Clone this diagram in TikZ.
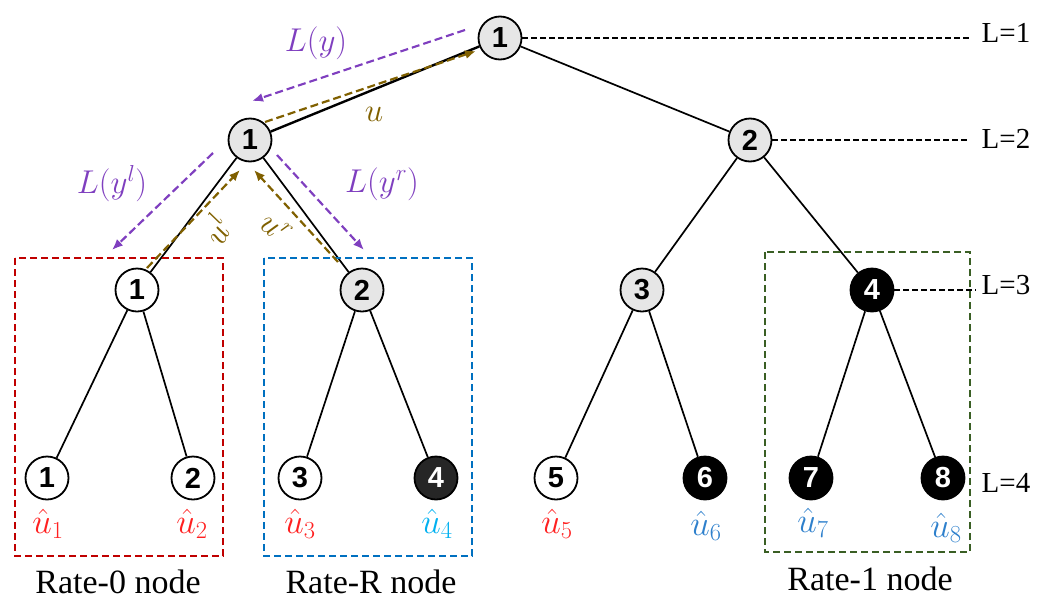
\RequirePackage{fix-cm}
\documentclass[tikz,border=0pt]{standalone}
\usepackage[no-math]{fontspec}
\setmainfont{Liberation Serif}
\setsansfont{Liberation Sans}
\usetikzlibrary{arrows.meta,positioning}
\definecolor{gr}{HTML}{E6E6E6}
\definecolor{dk}{HTML}{262626}
\definecolor{pu}{HTML}{7F3FBF}
\definecolor{go}{HTML}{806000}
\definecolor{rbox}{HTML}{C00000}
\definecolor{bbox}{HTML}{0070C0}
\definecolor{gbox}{HTML}{3A5F24}
\definecolor{ured}{HTML}{FF2020}
\definecolor{ucyan}{HTML}{00B0F0}
\definecolor{ublue}{HTML}{2E80CC}

\begin{document}
\begin{tikzpicture}[x=1pt,y=-1pt,>={Latex[length=11pt,width=9pt]},
nd/.style={circle,draw,line width=1.8pt,minimum size=43pt,inner sep=0pt,fill=white,font=\fontsize{29}{29}\selectfont\sffamily\bfseries},
gy/.style={fill=gr},
bk/.style={fill=black,text=white},
edge/.style={line width=1.7pt},
lvl/.style={line width=1.6pt,dash pattern=on 6pt off 3pt,shorten >=8pt},
grp/.style={line width=1.9pt,dash pattern=on 7pt off 4pt},
flow/.style={->,line width=2.2pt,dash pattern=on 8pt off 4pt},
hat/.style={font=\fontsize{35}{35}\selectfont,inner sep=1pt},
lbl/.style={font=\fontsize{33}{33}\selectfont},
lev/.style={font=\fontsize{29}{29}\selectfont},
grptext/.style={font=\fontsize{34}{36}\selectfont}]
\useasboundingbox (0,0) rectangle (1049,600);
% tree
\node[nd,gy] (a) at (500,38) {1};
\node[nd,gy] (b1) at (250,140) {1};
\node[nd,gy] (b2) at (750,140) {2};
\node[nd] (c1) at (137,290) {1};
\node[nd,gy] (c2) at (362,290) {2};
\node[nd,gy] (c3) at (642,290) {3};
\node[nd,bk] (c4) at (872,290) {4};
\node[nd] (d1) at (47,478) {1};
\node[nd] (d2) at (193,478) {2};
\node[nd] (d3) at (300,478) {3};
\node[nd,fill=dk,text=white] (d4) at (436,478) {4};
\node[nd] (d5) at (556,478) {5};
\node[nd,bk] (d6) at (705,478) {6};
\node[nd,bk] (d7) at (811,478) {7};
\node[nd,bk] (d8) at (943,478) {8};
\draw[edge,line width=2.4pt] (a)--(b1); \draw[edge] (a)--(b2);
\draw[edge] (b1)--(c1); \draw[edge] (b1)--(c2);
\draw[edge] (b2)--(c3); \draw[edge] (b2)--(c4);
\draw[edge] (c1)--(d1); \draw[edge] (c1)--(d2);
\draw[edge] (c2)--(d3); \draw[edge] (c2)--(d4);
\draw[edge] (c3)--(d5); \draw[edge] (c3)--(d6);
\draw[edge] (c4)--(d7); \draw[edge] (c4)--(d8);
% levels
\node[lev] (l1) at (1006,33) {L=1};
\node[lev] (l2) at (1006,139) {L=2};
\node[lev] (l3) at (1006,285) {L=3};
\node[lev] (l4) at (1006,483) {L=4};
\draw[lvl] (a.east) -- (a.east -| l1.west);
\draw[lvl] (b2.east) -- (b2.east -| l2.west);
\draw[lvl,shorten >=2pt] (c4.east) -- (c4.east -| l3.west);
% estimates
\node[hat,text=ured] (h1) at (48,524) {$\hat{u}_1$};
\node[hat,text=ured] (h2) at (192,524) {$\hat{u}_2$};
\node[hat,text=ured] (h3) at (300,524) {$\hat{u}_3$};
\node[hat,text=ucyan] (h4) at (437,524) {$\hat{u}_4$};
\node[hat,text=ured] (h5) at (557,524) {$\hat{u}_5$};
\node[hat,text=ublue] (h6) at (706,526) {$\hat{u}_6$};
\node[hat,text=ublue] (h7) at (813,523) {$\hat{u}_7$};
\node[hat,text=ublue] (h8) at (946,528) {$\hat{u}_8$};
% groups
\draw[grp,draw=rbox] (15,258) rectangle (223,556);
\draw[grp,draw=bbox] (264,258) rectangle (472,556);
\draw[grp,draw=gbox] (765,252) rectangle (970,552);
\node[grptext] (r0) at (118,582) {Rate-0 node};
\node[grptext] (rr) at (371,582) {Rate-R node};
\node[grptext] (r1) at (870,579) {Rate-1 node};
% messages
\coordinate (p1) at (465,30); \coordinate (p2) at (252,101);
\coordinate (q1) at (265,122); \coordinate (q2) at (476,51);
\coordinate (p3) at (213,153); \coordinate (p4) at (112,250);
\coordinate (q3) at (147,268); \coordinate (q4) at (240,170);
\coordinate (q5) at (338,262); \coordinate (q6) at (254,170);
\coordinate (p5) at (277,155); \coordinate (p6) at (364,250);
\draw[flow,draw=pu] (p1)--(p2);
\draw[flow,draw=go] (q1)--(q2);
\draw[flow,draw=pu] (p3)--(p4);
\draw[flow,draw=go] (q3)--(q4);
\draw[flow,draw=go] (q5)--(q6);
\draw[flow,draw=pu] (p5)--(p6);
\node[lbl,text=pu] (tly) at (316,43) {$L(y)$};
\node[lbl,text=go] (tu) at (374,114) {$u$};
\node[lbl,text=pu] (tlyl) at (112,184) {$L(y^l)$};
\node[lbl,text=pu] (tlyr) at (382,184) {$L(y^r)$};
\node[lbl,text=go,rotate=60] (tul) at (216,229) {$u^l$};
\node[lbl,text=go,rotate=-40] (tur) at (276,228) {$u^r$};
\end{tikzpicture}
\end{document}
